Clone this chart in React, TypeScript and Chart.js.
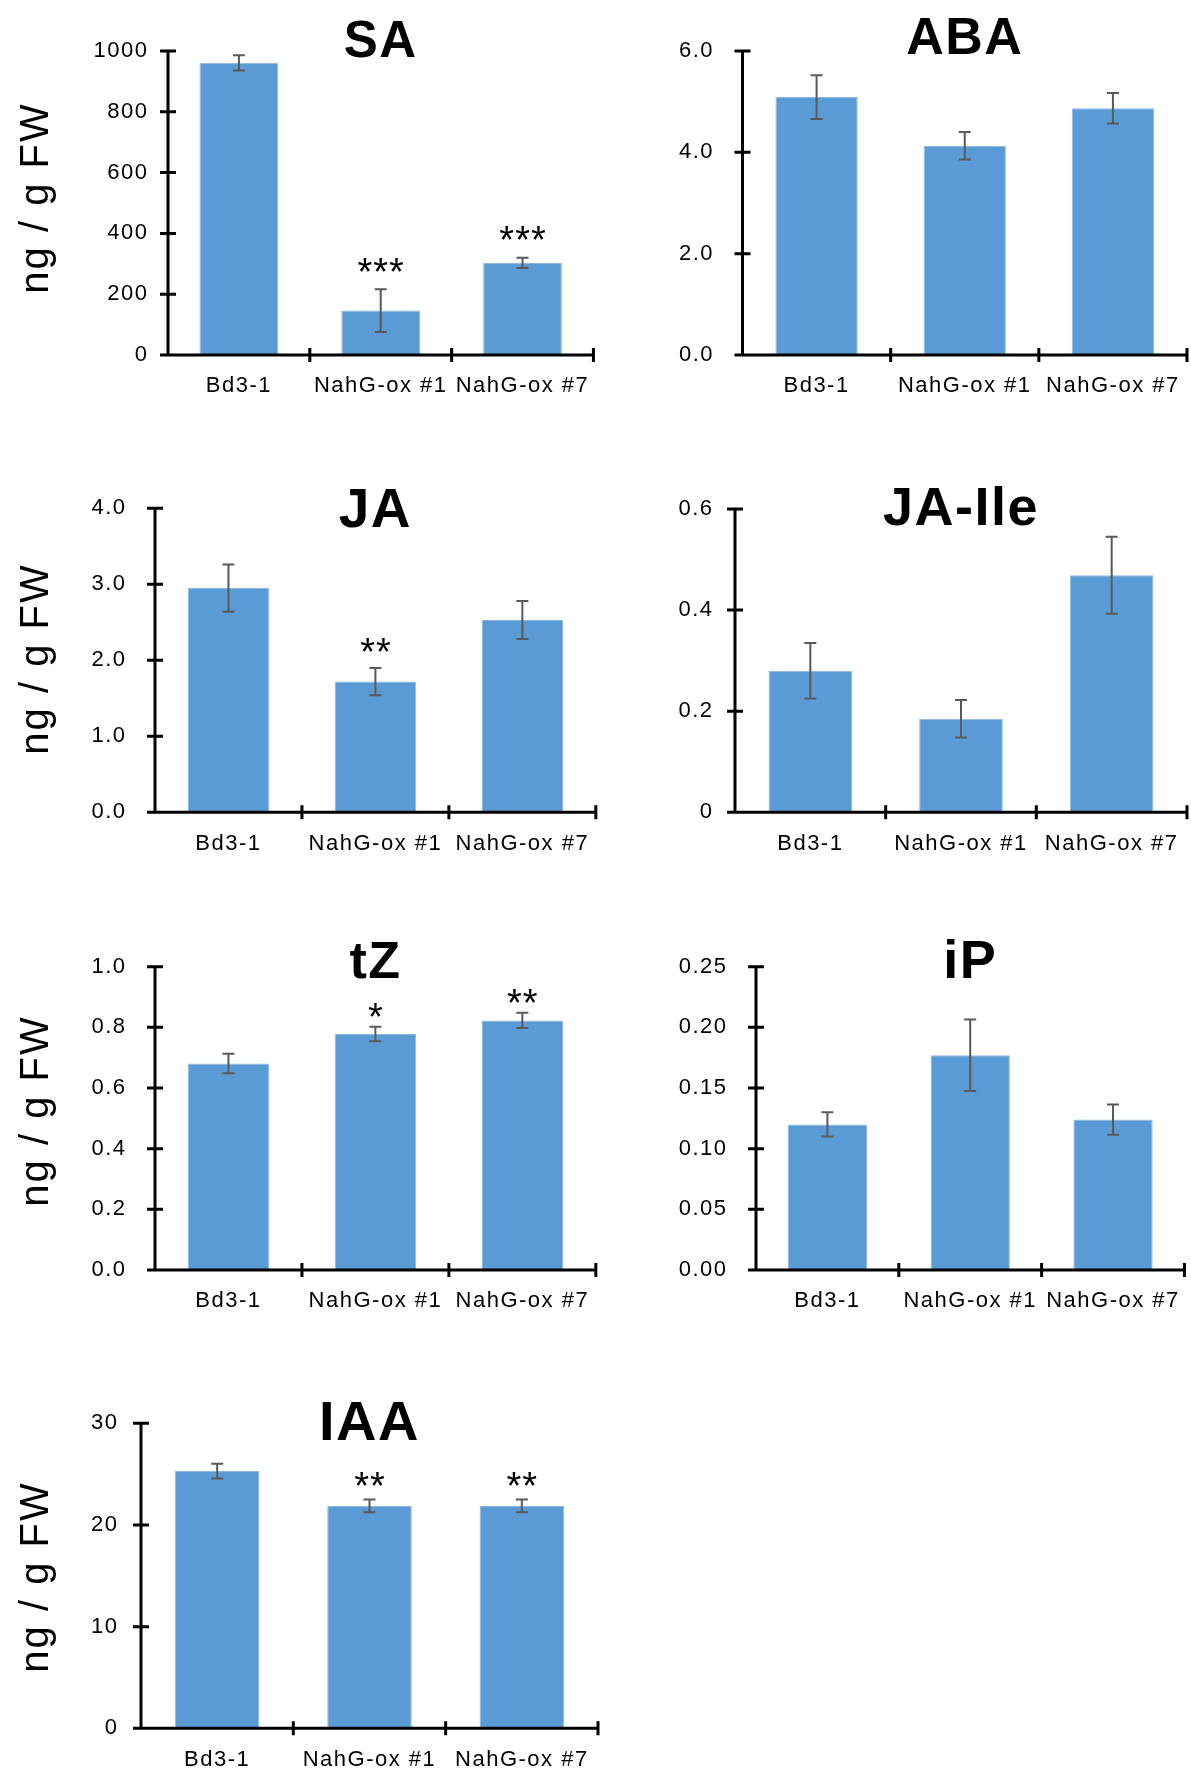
import React, { useEffect, useRef } from 'react';
import { Chart, registerables } from 'chart.js';

Chart.register(...registerables);

const FONT = '"Liberation Sans", Arial, Helvetica, sans-serif';

// ---------- data ----------
const categories = ['Bd3-1', 'NahG-ox #1', 'NahG-ox #7'];
const yAxisLabel = 'ng / g FW';

const saValues = [961, 146, 303];
const saErrors = [25, 70, 17];
const saStars = ['', '***', '***'];
const saTicks = ['0', '200', '400', '600', '800', '1000'];

const abaValues = [5.09, 4.13, 4.87];
const abaErrors = [0.43, 0.27, 0.3];
const abaStars = ['', '', ''];
const abaTicks = ['0.0', '2.0', '4.0', '6.0'];

const jaValues = [2.95, 1.72, 2.53];
const jaErrors = [0.31, 0.18, 0.25];
const jaStars = ['', '**', ''];
const jaTicks = ['0.0', '1.0', '2.0', '3.0', '4.0'];

const jaIleValues = [0.28, 0.185, 0.469];
const jaIleErrors = [0.055, 0.037, 0.076];
const jaIleStars = ['', '', ''];
const jaIleTicks = ['0', '0.2', '0.4', '0.6'];

const tzValues = [0.681, 0.778, 0.823];
const tzErrors = [0.032, 0.024, 0.025];
const tzStars = ['', '*', '**'];
const tzTicks = ['0.0', '0.2', '0.4', '0.6', '0.8', '1.0'];

const ipValues = [0.12, 0.177, 0.124];
const ipErrors = [0.01, 0.0295, 0.0125];
const ipStars = ['', '', ''];
const ipTicks = ['0.00', '0.05', '0.10', '0.15', '0.20', '0.25'];

const iaaValues = [25.3, 21.87, 21.87];
const iaaErrors = [0.72, 0.63, 0.63];
const iaaStars = ['', '**', '**'];
const iaaTicks = ['0', '10', '20', '30'];

// ---------- layout (pixels) ----------
type Panel = {
  title: string;
  values: number[];
  errors: number[];
  stars: string[];
  ticks: string[];
  box: { left: number; top: number; width: number; height: number };
  axisX: number;
  rightX: number;
  topY: number;
  zeroY: number;
  tickPad: number;
  titleSize: number;
  titleBase: number;
  starOffset: number;
  yLabelY: number | null;
};

const panels: Panel[] = [
  {
    title: 'SA', values: saValues, errors: saErrors, stars: saStars, ticks: saTicks,
    box: { left: 0, top: 0, width: 600, height: 420 },
    axisX: 168, rightX: 599, topY: 51, zeroY: 355, tickPad: 21,
    titleSize: 51, titleBase: 56.5, starOffset: 26.5, yLabelY: 198,
  },
  {
    title: 'ABA', values: abaValues, errors: abaErrors, stars: abaStars, ticks: abaTicks,
    box: { left: 600, top: 0, width: 591, height: 420 },
    axisX: 742.5, rightX: 1187, topY: 51, zeroY: 355, tickPad: 30,
    titleSize: 52, titleBase: 53.5, starOffset: 24, yLabelY: null,
  },
  {
    title: 'JA', values: jaValues, errors: jaErrors, stars: jaStars, ticks: jaTicks,
    box: { left: 0, top: 460, width: 600, height: 420 },
    axisX: 155, rightX: 598, topY: 508.3, zeroY: 812.3, tickPad: 30,
    titleSize: 55, titleBase: 527, starOffset: 25, yLabelY: 659,
  },
  {
    title: 'JA-Ile', values: jaIleValues, errors: jaIleErrors, stars: jaIleStars, ticks: jaIleTicks,
    box: { left: 600, top: 460, width: 591, height: 420 },
    axisX: 735, rightX: 1187, topY: 509, zeroY: 812.3, tickPad: 23,
    titleSize: 54, titleBase: 525, starOffset: 24, yLabelY: null,
  },
  {
    title: 'tZ', values: tzValues, errors: tzErrors, stars: tzStars, ticks: tzTicks,
    box: { left: 0, top: 920, width: 600, height: 420 },
    axisX: 155, rightX: 598, topY: 966.7, zeroY: 1270, tickPad: 30,
    titleSize: 52, titleBase: 978, starOffset: 18.5, yLabelY: 1111,
  },
  {
    title: 'iP', values: ipValues, errors: ipErrors, stars: ipStars, ticks: ipTicks,
    box: { left: 600, top: 920, width: 591, height: 420 },
    axisX: 756, rightX: 1187, topY: 966.7, zeroY: 1270, tickPad: 30,
    titleSize: 54, titleBase: 978, starOffset: 24, yLabelY: null,
  },
  {
    title: 'IAA', values: iaaValues, errors: iaaErrors, stars: iaaStars, ticks: iaaTicks,
    box: { left: 0, top: 1370, width: 600, height: 401 },
    axisX: 141, rightX: 598, topY: 1423.3, zeroY: 1728.3, tickPad: 24,
    titleSize: 56, titleBase: 1440, starOffset: 22, yLabelY: 1577,
  },
];

function PanelChart({ p }: { p: Panel }) {
  const ref = useRef<HTMLCanvasElement | null>(null);

  useEffect(() => {
    const canvas = ref.current;
    if (!canvas) return;
    const max = parseFloat(p.ticks[p.ticks.length - 1]);
    const step = max / (p.ticks.length - 1);

    const deco = {
      id: 'deco',
      beforeDraw(chart: any) {
        (chart.ctx as any).letterSpacing = '1.5px';
      },
      afterDraw(chart: any) {
        const ctx = chart.ctx as CanvasRenderingContext2D & { letterSpacing: string };
        const { left, right, top, bottom } = chart.chartArea;
        const ys = chart.scales.y;
        const meta = chart.getDatasetMeta(0);
        ctx.save();
        ctx.letterSpacing = '0px';

        // error bars
        ctx.strokeStyle = '#595959';
        ctx.lineWidth = 2;
        meta.data.forEach((bar: any, i: number) => {
          const x = bar.x;
          const y1 = ys.getPixelForValue(p.values[i] + p.errors[i]);
          const y2 = ys.getPixelForValue(p.values[i] - p.errors[i]);
          ctx.beginPath();
          ctx.moveTo(x, y1);
          ctx.lineTo(x, y2);
          ctx.moveTo(x - 6, y1);
          ctx.lineTo(x + 6, y1);
          ctx.moveTo(x - 6, y2);
          ctx.lineTo(x + 6, y2);
          ctx.stroke();
        });

        // axes and crossing ticks
        ctx.strokeStyle = '#000';
        ctx.lineWidth = 3;
        ctx.lineCap = 'butt';
        ctx.beginPath();
        ctx.moveTo(left, top - 1.5);
        ctx.lineTo(left, bottom + 1.5);
        ctx.moveTo(left - 8, bottom);
        ctx.lineTo(right + 1.5, bottom);
        ys.ticks.forEach((t: any) => {
          const y = ys.getPixelForValue(t.value);
          ctx.moveTo(left - 8, y);
          ctx.lineTo(left + 8, y);
        });
        const n = categories.length;
        const cw = (right - left) / n;
        for (let k = 1; k <= n; k++) {
          const x = left + k * cw;
          ctx.moveTo(x, bottom - 7);
          ctx.lineTo(x, bottom + 7);
        }
        ctx.stroke();

        // significance stars
        ctx.fillStyle = '#000';
        ctx.font = `38px ${FONT}`;
        ctx.textAlign = 'center';
        ctx.textBaseline = 'alphabetic';
        ctx.letterSpacing = '1px';
        meta.data.forEach((bar: any, i: number) => {
          const s = p.stars[i];
          if (!s) return;
          const cy = ys.getPixelForValue(p.values[i] + p.errors[i]) - p.starOffset;
          ctx.fillText(s, bar.x + 0.5, cy + 0.575 * 38);
        });

        // panel title
        ctx.letterSpacing = '1.5px';
        ctx.font = `bold ${p.titleSize}px ${FONT}`;
        ctx.fillText(p.title, (left + right) / 2, p.titleBase - p.box.top);

        // y-axis label
        if (p.yLabelY !== null) {
          ctx.save();
          ctx.translate(48 - p.box.left, p.yLabelY - p.box.top);
          ctx.rotate(-Math.PI / 2);
          ctx.font = `40px ${FONT}`;
          ctx.letterSpacing = '2px';
          ctx.textAlign = 'center';
          ctx.fillText(yAxisLabel, 0, 0);
          ctx.restore();
        }
        ctx.restore();
      },
    };

    const chart = new Chart(canvas, {
      type: 'bar',
      data: {
        labels: categories,
        datasets: [
          {
            data: p.values,
            backgroundColor: '#5B9BD5',
            borderColor: '#8DB7E3',
            borderWidth: 1,
            barPercentage: 0.555,
            categoryPercentage: 1,
          },
        ],
      },
      options: {
        responsive: false,
        animation: false,
        devicePixelRatio: 1,
        events: [],
        layout: {
          padding: {
            left: 0,
            top: p.topY - p.box.top,
            right: p.box.left + p.box.width - p.rightX,
            bottom: 0,
          },
        },
        plugins: {
          legend: { display: false },
          tooltip: { enabled: false },
          title: { display: false },
        },
        scales: {
          x: {
            grid: { display: false, drawTicks: false, tickLength: 0 },
            border: { display: false },
            ticks: {
              color: '#000',
              font: { family: FONT, size: 22 },
              padding: 18,
              autoSkip: false,
              maxRotation: 0,
              minRotation: 0,
            },
            afterFit: (s: any) => {
              s.height = p.box.top + p.box.height - p.zeroY;
            },
          },
          y: {
            min: 0,
            max,
            grid: { display: false, drawTicks: false, tickLength: 0 },
            border: { display: false },
            ticks: {
              stepSize: step,
              color: '#000',
              font: { family: FONT, size: 22 },
              padding: p.tickPad - 1.5,
              callback: (v: any) => p.ticks[Math.round(Number(v) / step)] ?? '',
            },
            afterFit: (s: any) => {
              s.width = p.axisX - p.box.left;
            },
          },
        },
      } as any,
      plugins: [deco],
    });
    return () => chart.destroy();
  }, [p]);

  return (
    <canvas
      ref={ref}
      width={p.box.width}
      height={p.box.height}
      style={{
        position: 'absolute',
        left: p.box.left,
        top: p.box.top,
        width: p.box.width,
        height: p.box.height,
        display: 'block',
      }}
    />
  );
}

export default function App() {
  return (
    <div
      style={{
        position: 'absolute',
        left: 0,
        top: 0,
        width: 1191,
        height: 1771,
        background: '#fff',
        overflow: 'hidden',
      }}
    >
      {panels.map((p) => (
        <PanelChart key={p.title} p={p} />
      ))}
    </div>
  );
}
